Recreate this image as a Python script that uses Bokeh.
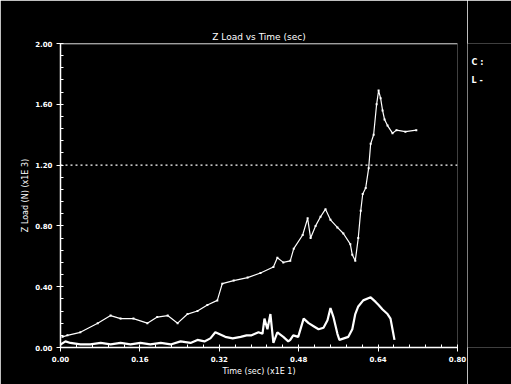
from bokeh.plotting import figure
from bokeh.layouts import row
from bokeh.models import Span, NumeralTickFormatter, FixedTicker
from bokeh.core.properties import value
from bokeh.embed import file_html
from bokeh.resources import INLINE

# ---- data ----
title_text = "Z Load vs Time (sec)"
x_label = "Time (sec) (x1E 1)"
y_label = "Z Load (N) (x1E 3)"
threshold = 1.2
legend_labels = ["C :", "L -"]

upper_t = [0.004, 0.014, 0.040, 0.075, 0.101, 0.121, 0.147, 0.175, 0.195, 0.216, 0.236,
           0.256, 0.276, 0.296, 0.316, 0.326, 0.349, 0.377, 0.403, 0.429, 0.437, 0.449,
           0.463, 0.470, 0.488, 0.498, 0.504, 0.514, 0.524, 0.534, 0.544, 0.558, 0.570,
           0.584, 0.588, 0.594, 0.600, 0.605, 0.609, 0.615, 0.621, 0.625, 0.631, 0.637,
           0.641, 0.645, 0.649, 0.653, 0.659, 0.669, 0.677, 0.695, 0.717]
upper_v = [0.07, 0.08, 0.10, 0.16, 0.21, 0.19, 0.19, 0.16, 0.20, 0.21, 0.16,
           0.22, 0.24, 0.28, 0.31, 0.42, 0.44, 0.46, 0.49, 0.53, 0.59, 0.56,
           0.57, 0.65, 0.74, 0.85, 0.72, 0.80, 0.86, 0.91, 0.84, 0.79, 0.75,
           0.68, 0.61, 0.57, 0.72, 0.90, 1.01, 1.05, 1.18, 1.34, 1.40, 1.60,
           1.69, 1.64, 1.56, 1.50, 1.46, 1.41, 1.43, 1.42, 1.43]

lower_t = [0.000, 0.010, 0.020, 0.040, 0.060, 0.081, 0.101, 0.121, 0.141, 0.161, 0.181,
           0.202, 0.222, 0.242, 0.262, 0.276, 0.290, 0.302, 0.312, 0.332, 0.347, 0.363,
           0.375, 0.385, 0.399, 0.407, 0.411, 0.417, 0.423, 0.429, 0.437, 0.449, 0.459,
           0.463, 0.469, 0.479, 0.490, 0.500, 0.510, 0.520, 0.530, 0.538, 0.544, 0.550,
           0.558, 0.562, 0.580, 0.588, 0.594, 0.600, 0.610, 0.625, 0.635, 0.641, 0.649,
           0.659, 0.665, 0.669, 0.673]
lower_v = [0.02, 0.04, 0.03, 0.02, 0.02, 0.03, 0.02, 0.03, 0.02, 0.03, 0.02,
           0.03, 0.02, 0.04, 0.03, 0.05, 0.04, 0.06, 0.10, 0.07, 0.06, 0.07,
           0.08, 0.08, 0.10, 0.09, 0.19, 0.12, 0.22, 0.03, 0.10, 0.07, 0.04,
           0.05, 0.08, 0.07, 0.19, 0.16, 0.14, 0.12, 0.13, 0.18, 0.26, 0.20,
           0.09, 0.05, 0.07, 0.12, 0.22, 0.27, 0.31, 0.33, 0.30, 0.28, 0.25,
           0.22, 0.19, 0.12, 0.05]

x_ticks = [0.0, 0.16, 0.32, 0.48, 0.64, 0.80]
y_ticks = [0.0, 0.4, 0.8, 1.2, 1.6, 2.0]

FONT = "DejaVu Sans"
WHITE = "white"

p = figure(width=467, height=384, output_backend="svg", toolbar_location=None,
           x_range=(0, 0.8), y_range=(0, 2.0),
           min_border_left=60, min_border_right=10, min_border_top=43, min_border_bottom=37,
           background_fill_color="black", border_fill_color="black",
           outline_line_color=None)

p.title.text = title_text
p.title.text_color = WHITE
p.title.text_font = FONT
p.title.text_font_size = "9px"
p.title.text_font_style = "normal"
p.title.align = "center"
p.title.standoff = 4

p.xgrid.visible = False
p.ygrid.visible = False

for ax in (p.xaxis[0], p.yaxis[0]):
    ax.axis_line_color = WHITE
    ax.axis_line_width = 1.5
    ax.major_tick_line_color = WHITE
    ax.minor_tick_line_color = WHITE
    ax.major_label_text_color = WHITE
    ax.major_label_text_font = FONT
    ax.major_label_text_font_size = "7px"
    ax.major_label_text_font_style = "bold"
    ax.axis_label_text_color = WHITE
    ax.axis_label_text_font = FONT
    ax.axis_label_text_font_size = "8px"
    ax.axis_label_text_font_style = "normal"
    ax.major_tick_out = 4
    ax.major_tick_in = 2
    ax.minor_tick_in = 3
    ax.minor_tick_out = 0
    ax.major_label_standoff = 4
    ax.axis_label_standoff = 2

p.xaxis.ticker = FixedTicker(ticks=x_ticks, minor_ticks=[i * 0.032 for i in range(26)])
p.yaxis.ticker = FixedTicker(ticks=y_ticks, minor_ticks=[i * 0.08 for i in range(26)])
p.xaxis.formatter = NumeralTickFormatter(format="0.00")
p.yaxis.formatter = NumeralTickFormatter(format="0.00")
p.xaxis.axis_label = x_label
p.yaxis.axis_label = y_label

# top border line
p.add_layout(Span(location=2.0, dimension="width", line_color=WHITE, line_width=1.5))
# threshold dotted line
p.add_layout(Span(location=threshold, dimension="width", line_color=WHITE,
                  line_width=1.2, line_dash="2 3"))

# series
p.line(upper_t, upper_v, line_color=WHITE, line_width=1.2)
p.scatter(upper_t, upper_v, size=2, marker="square", fill_color=WHITE, line_color=None)
p.line(lower_t, lower_v, line_color=WHITE, line_width=2.2)

# small side panel carrying the legend texts (its frame is aligned with the main frame)
leg = figure(width=44, height=384, output_backend="svg", toolbar_location=None,
             x_range=(0, 44), y_range=(347, 43),
             min_border=0, background_fill_color="black", border_fill_color="black",
             outline_line_color=None)
leg.axis.visible = False
leg.grid.visible = False
leg.text(x=[4, 4], y=[62, 80], text=legend_labels, text_color=WHITE,
         text_font=value(FONT), text_font_size="8px", text_font_style="bold",
         text_baseline="middle", text_align="left")

layout = row(p, leg, spacing=0)
open("out.html", "w").write(file_html(layout, INLINE))
